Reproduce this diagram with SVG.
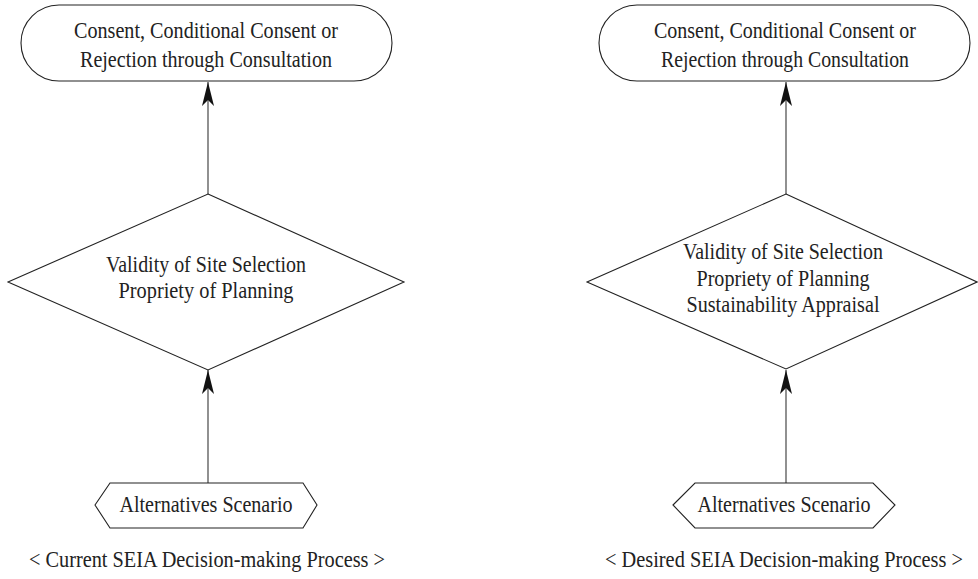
<svg xmlns="http://www.w3.org/2000/svg" width="978" height="579" viewBox="0 0 978 579">
<style>
.shape{fill:#fff;stroke:#222;stroke-width:1.1}
.t{font-family:"Liberation Serif","Times New Roman",serif;font-size:24px;fill:#222;text-anchor:middle}
.conn{stroke:#555;stroke-width:1.3;fill:none}
</style>
<defs>
<marker id="ah" markerUnits="userSpaceOnUse" markerWidth="28" markerHeight="16" viewBox="-26 -8 28 16" refX="0" refY="0" orient="auto">
<path d="M0,0 L-24,-6 L-18,0 L-24,6 Z" fill="#111"/>
</marker>
</defs>
<rect width="978" height="579" fill="#fff"/>
<g id="connectors">
<line class="conn" x1="208" y1="194" x2="208" y2="82" marker-end="url(#ah)"/>
<line class="conn" x1="208" y1="483" x2="208" y2="370" marker-end="url(#ah)"/>
<line class="conn" x1="786" y1="194" x2="786" y2="82" marker-end="url(#ah)"/>
<line class="conn" x1="786" y1="483" x2="786" y2="370" marker-end="url(#ah)"/>
</g>
<g id="left-terminal">
<rect class="shape" x="21" y="5" width="371" height="76" rx="38" ry="38"/>
<text class="t" x="206" y="38" textLength="264" lengthAdjust="spacingAndGlyphs">Consent, Conditional Consent or</text>
<text class="t" x="206" y="67" textLength="252" lengthAdjust="spacingAndGlyphs">Rejection through Consultation</text>
</g>
<g id="left-decision">
<polygon class="shape" points="208,194 404,282 208,370 8,282"/>
<text class="t" x="206" y="272" textLength="200" lengthAdjust="spacingAndGlyphs">Validity of Site Selection</text>
<text class="t" x="206" y="298" textLength="175" lengthAdjust="spacingAndGlyphs">Propriety of Planning</text>
</g>
<g id="left-alternatives">
<polygon class="shape" points="95,505 110,483 303,483 317,505 303,528 110,528"/>
<text class="t" x="206" y="512" textLength="173" lengthAdjust="spacingAndGlyphs">Alternatives Scenario</text>
</g>
<g id="left-caption">
<text class="t" x="207" y="567" textLength="356" lengthAdjust="spacingAndGlyphs">&lt; Current SEIA Decision-making Process &gt;</text>
</g>
<g id="right-terminal">
<rect class="shape" x="599" y="5" width="371" height="76" rx="38" ry="38"/>
<text class="t" x="785" y="38" textLength="262" lengthAdjust="spacingAndGlyphs">Consent, Conditional Consent or</text>
<text class="t" x="785" y="67" textLength="248" lengthAdjust="spacingAndGlyphs">Rejection through Consultation</text>
</g>
<g id="right-decision">
<polygon class="shape" points="786,194 977,282 786,369 587,282"/>
<text class="t" x="783" y="259" textLength="200" lengthAdjust="spacingAndGlyphs">Validity of Site Selection</text>
<text class="t" x="783" y="286" textLength="173" lengthAdjust="spacingAndGlyphs">Propriety of Planning</text>
<text class="t" x="783" y="312" textLength="193" lengthAdjust="spacingAndGlyphs">Sustainability Appraisal</text>
</g>
<g id="right-alternatives">
<polygon class="shape" points="673,505 695,483 873,483 895,505 873,528 695,528"/>
<text class="t" x="784" y="512" textLength="173" lengthAdjust="spacingAndGlyphs">Alternatives Scenario</text>
</g>
<g id="right-caption">
<text class="t" x="784" y="567" textLength="358" lengthAdjust="spacingAndGlyphs">&lt; Desired SEIA Decision-making Process &gt;</text>
</g>
</svg>
